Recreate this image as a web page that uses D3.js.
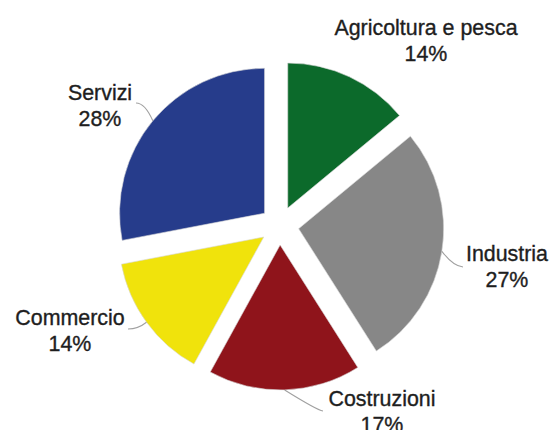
<!DOCTYPE html>
<html>
<head>
<meta charset="utf-8">
<script src="https://cdn.jsdelivr.net/npm/d3@7"></script>
<style>
  html, body { margin: 0; padding: 0; background: #fff; }
  svg { display: block; }
  text { font-family: "Liberation Sans", Arial, Helvetica, sans-serif; fill: #1e1e1e; stroke: #1e1e1e; stroke-width: 0.35px; }
</style>
</head>
<body>
<svg id="chart" width="553" height="430"></svg>
<script>
// ---- data ----
const categories = ["Agricoltura e pesca", "Industria", "Costruzioni", "Commercio", "Servizi"];
const values = [14, 27, 17, 14, 28];

// ---- styles / layout (not data) ----
const colors = ["#0c6a2b", "#878787", "#8f141b", "#f0e30c", "#263c8b"];
const W = 553, H = 430;
const cx = 279.5, cy = 225.6, R = 145, explode = 19.4;
const fontSize = 21.4, lineGap = 26;
// label layout: text centre x, first baseline y, leader elbow & end (null = no leader)
const labelLayout = [
  { x: 426, y: 35, elbow: null, end: null },
  { x: 507, y: 261, elbow: [453, 266], end: [463, 267] },
  { x: 382, y: 406, elbow: [317, 410], end: [323, 411] },
  { x: 70, y: 325, elbow: [138, 329], end: [128, 329] },
  { x: 100, y: 100, elbow: [145, 103], end: [136, 103] }
];

const svg = d3.select("#chart");
const data = categories.map((c, i) => ({ name: c, value: values[i], i }));

const pie = d3.pie().sort(null).value(d => d.value).startAngle(0).endAngle(2 * Math.PI);
const arcs = pie(data);
const arc = d3.arc().innerRadius(0).outerRadius(R);

const g = svg.append("g").attr("transform", `translate(${cx},${cy})`);

function offsetOf(a) {
  const mid = (a.startAngle + a.endAngle) / 2;
  return [Math.sin(mid) * explode, -Math.cos(mid) * explode];
}

g.selectAll("path.slice")
  .data(arcs)
  .enter().append("path")
  .attr("class", "slice")
  .attr("transform", d => { const o = offsetOf(d); return `translate(${o[0]},${o[1]})`; })
  .attr("d", arc)
  .attr("fill", d => colors[d.data.i])
  .attr("stroke", "#d8d8d8")
  .attr("stroke-width", 0.6);

// leader lines
arcs.forEach(a => {
  const L = labelLayout[a.data.i];
  if (!L.elbow) return;
  const o = offsetOf(a);
  const mid = (a.startAngle + a.endAngle) / 2;
  const p0 = [cx + o[0] + Math.sin(mid) * R, cy + o[1] - Math.cos(mid) * R];
  svg.append("path")
    .attr("d", `M${p0[0]},${p0[1]} Q${L.elbow[0]},${L.elbow[1]} ${L.end[0]},${L.end[1]}`)
    .attr("fill", "none")
    .attr("stroke", "#a0a0a0")
    .attr("stroke-width", 1.1);
});

// labels
const labels = svg.selectAll("text.lbl")
  .data(arcs)
  .enter().append("text")
  .attr("class", "lbl")
  .attr("text-anchor", "middle")
  .attr("font-size", fontSize);

labels.append("tspan")
  .attr("x", d => labelLayout[d.data.i].x)
  .attr("y", d => labelLayout[d.data.i].y)
  .text(d => d.data.name);
labels.append("tspan")
  .attr("x", d => labelLayout[d.data.i].x)
  .attr("y", d => labelLayout[d.data.i].y + lineGap)
  .text(d => d.data.value + "%");
</script>
</body>
</html>
